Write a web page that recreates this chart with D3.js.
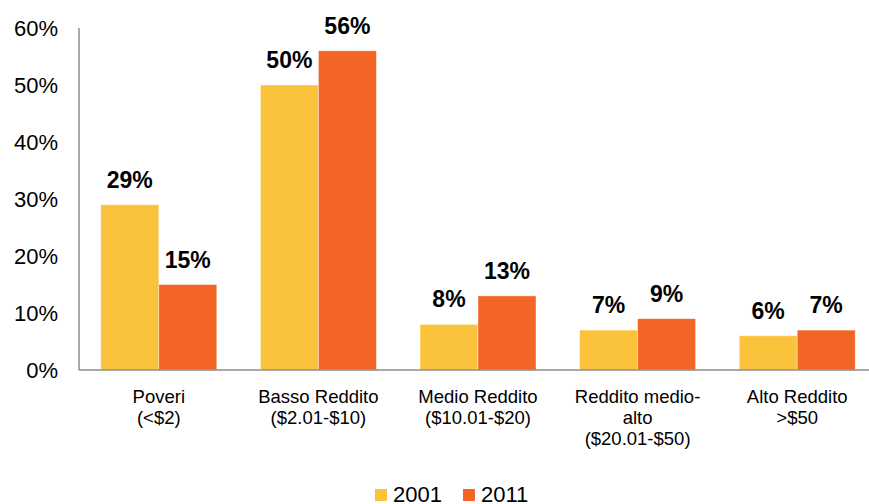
<!DOCTYPE html>
<html>
<head>
<meta charset="utf-8">
<script src="https://cdn.jsdelivr.net/npm/d3@7"></script>
<style>
  body { margin: 0; background: #fff; }
  text { font-family: Arial, "Liberation Sans", sans-serif; fill: #000; }
</style>
</head>
<body>
<div id="container"></div>
<script>
/* DATA */
const categories = ["Poveri (<$2)", "Basso Reddito ($2.01-$10)", "Medio Reddito ($10.01-$20)", "Reddito medio-alto ($20.01-$50)", "Alto Reddito >$50"];
const categoryLines = [
  ["Poveri", "(<$2)"],
  ["Basso Reddito", "($2.01-$10)"],
  ["Medio Reddito", "($10.01-$20)"],
  ["Reddito medio-", "alto", "($20.01-$50)"],
  ["Alto Reddito", ">$50"]
];
const years = ["2001", "2011"];
const values2001 = [0.29, 0.50, 0.08, 0.07, 0.06];
const values2011 = [0.15, 0.56, 0.13, 0.09, 0.07];
const yTicks = [0, 0.1, 0.2, 0.3, 0.4, 0.5, 0.6];

/* CONSTANTS */
const width = 869, height = 504,
  margin = {top: 28, bottom: 134, left: 79, right: -8};
const colors = {"2001": "#FBC33C", "2011": "#F26524"};

const rows = categories.map((c, i) => ({
  cat: c, lines: categoryLines[i],
  vals: [{year: "2001", v: values2001[i]}, {year: "2011", v: values2011[i]}]
}));

/* SCALES */
const x0 = d3.scaleBand()
  .domain(categories)
  .range([margin.left, width - margin.right])
  .padding(0);

const x1 = d3.scaleBand()
  .domain(years)
  .range([0, x0.bandwidth()])
  .paddingInner(0)
  .paddingOuter(0.376);

const yScale = d3.scaleLinear()
  .domain([0, 0.6])
  .range([height - margin.bottom, margin.top]);

const fmt = d3.format(".0%");

/* SVG */
const svg = d3.select("#container")
  .append("svg")
  .attr("width", width)
  .attr("height", height);

// y tick labels (no tick marks)
const yAxis = d3.axisLeft(yScale).tickValues(yTicks).tickFormat(fmt).tickSize(0).tickPadding(21);
const gy = svg.append("g")
  .attr("transform", `translate(${margin.left},0)`)
  .call(yAxis);
gy.select(".domain").remove();
gy.selectAll("text")
  .style("font-size", "22px")
  .attr("dy", "0.36em");

// bars
const groups = svg.selectAll(".grp")
  .data(rows)
  .join("g")
  .attr("class", "grp")
  .attr("transform", d => `translate(${x0(d.cat)},0)`);

groups.selectAll("rect")
  .data(d => d.vals)
  .join("rect")
  .attr("x", d => x1(d.year))
  .attr("width", x1.bandwidth())
  .attr("y", d => yScale(d.v))
  .attr("height", d => yScale(0) - yScale(d.v))
  .attr("fill", d => colors[d.year])
  .attr("stroke", "rgba(255,255,255,0.5)")
  .attr("stroke-width", 0.8);

groups.selectAll(".lbl")
  .data(d => d.vals)
  .join("text")
  .attr("class", "lbl")
  .attr("x", d => x1(d.year) + x1.bandwidth() / 2)
  .attr("y", d => yScale(d.v) - 17)
  .attr("text-anchor", "middle")
  .style("font-size", "23px")
  .style("font-weight", "bold")
  .text(d => fmt(d.v));

// axis lines
svg.append("line")
  .attr("x1", margin.left).attr("x2", margin.left)
  .attr("y1", yScale(0.6)).attr("y2", yScale(0))
  .attr("stroke", "#8c8c8c").attr("stroke-width", 1.5);
svg.append("line")
  .attr("x1", margin.left).attr("x2", width)
  .attr("y1", yScale(0)).attr("y2", yScale(0))
  .attr("stroke", "#8c8c8c").attr("stroke-width", 1.5);

// category labels
groups.append("text")
  .attr("x", x0.bandwidth() / 2)
  .attr("y", yScale(0) + 33)
  .attr("text-anchor", "middle")
  .style("font-size", "18.5px")
  .selectAll("tspan")
  .data(d => d.lines)
  .join("tspan")
  .attr("x", x0.bandwidth() / 2)
  .attr("dy", (d, i) => i === 0 ? 0 : 21)
  .text(d => d);

// legend
const legendX = {"2001": 375, "2011": 463};
const legend = svg.append("g").attr("transform", "translate(0,489)");
years.forEach(yr => {
  legend.append("rect")
    .attr("x", legendX[yr]).attr("y", 0)
    .attr("width", 12).attr("height", 12)
    .attr("fill", colors[yr]);
  legend.append("text")
    .attr("x", legendX[yr] + 18).attr("y", 12.5)
    .style("font-size", "22px")
    .text(yr);
});
</script>
</body>
</html>
